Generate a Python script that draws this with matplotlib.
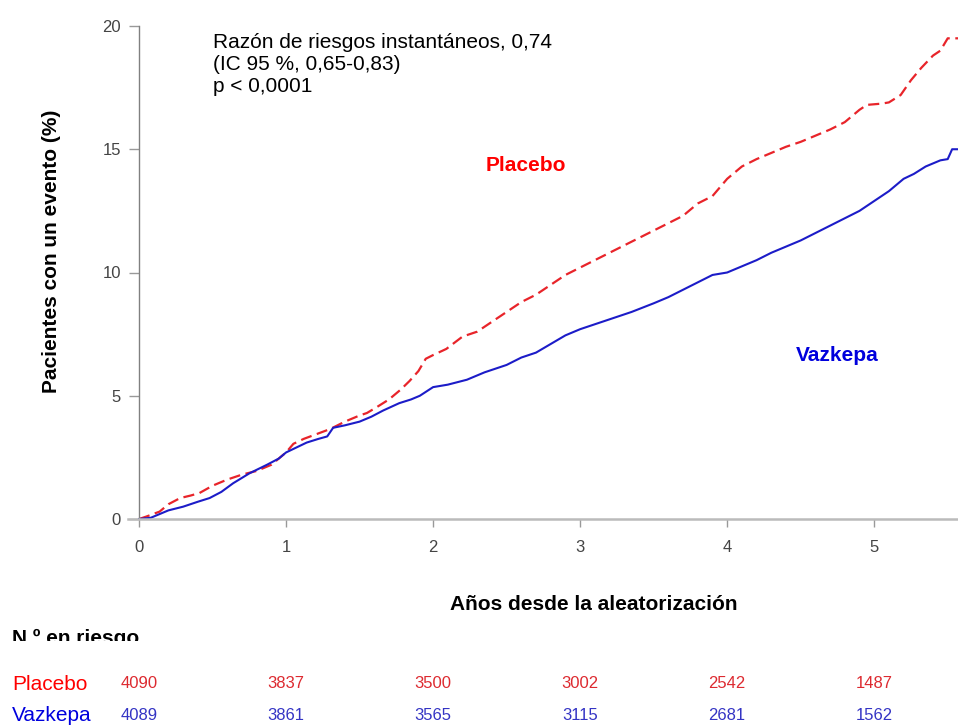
import matplotlib
matplotlib.use('Agg')
import matplotlib.pyplot as plt
import matplotlib.transforms as mtransforms
from matplotlib.patches import Rectangle

plt.rcParams['font.family'] = ['Liberation Sans', 'DejaVu Sans']

# --- data ---
placebo_t = [0, 0.05, 0.14, 0.2, 0.28, 0.35, 0.41, 0.5, 0.6, 0.7, 0.8, 0.9, 1.0, 1.05,
             1.12, 1.21, 1.3, 1.4, 1.5, 1.55, 1.62, 1.7, 1.78, 1.84, 1.9, 1.95, 2.0, 2.09,
             2.2, 2.3, 2.4, 2.5, 2.6, 2.7, 2.8, 2.9, 3.0, 3.1, 3.2, 3.3, 3.4, 3.5, 3.6,
             3.7, 3.8, 3.9, 4.0, 4.1, 4.2, 4.3, 4.4, 4.5, 4.6, 4.7, 4.8, 4.9, 4.95, 5.05,
             5.1, 5.18, 5.25, 5.32, 5.4, 5.45, 5.5, 5.57]
placebo_v = [0, 0.1, 0.3, 0.6, 0.85, 0.95, 1.05, 1.35, 1.6, 1.8, 1.95, 2.2, 2.7, 3.05,
             3.25, 3.45, 3.65, 3.95, 4.2, 4.3, 4.55, 4.85, 5.25, 5.6, 6.0, 6.5, 6.65, 6.9,
             7.4, 7.6, 8.0, 8.4, 8.8, 9.1, 9.5, 9.9, 10.2, 10.5, 10.8, 11.1, 11.4, 11.7, 12.0,
             12.3, 12.8, 13.1, 13.8, 14.3, 14.6, 14.85, 15.1, 15.3, 15.55, 15.8, 16.1, 16.6, 16.8, 16.85,
             16.9, 17.2, 17.8, 18.3, 18.8, 19.0, 19.5, 19.5]

vazkepa_t = [0, 0.08, 0.12, 0.2, 0.3, 0.4, 0.48, 0.56, 0.64, 0.75, 0.87, 0.95, 1.0, 1.07,
             1.14, 1.22, 1.28, 1.32, 1.4, 1.5, 1.58, 1.66, 1.77, 1.85, 1.91, 2.0, 2.1, 2.23,
             2.35, 2.5, 2.6, 2.7, 2.8, 2.9, 3.0, 3.1, 3.2, 3.35, 3.5, 3.6, 3.7, 3.8, 3.9,
             4.0, 4.1, 4.2, 4.3, 4.4, 4.5, 4.6, 4.7, 4.8, 4.9, 5.0, 5.1, 5.2, 5.27, 5.35,
             5.45, 5.5, 5.53, 5.57]
vazkepa_v = [0, 0.05, 0.15, 0.35, 0.5, 0.7, 0.85, 1.1, 1.45, 1.85, 2.2, 2.45, 2.7, 2.9,
             3.1, 3.25, 3.35, 3.7, 3.8, 3.95, 4.15, 4.4, 4.7, 4.85, 5.0, 5.35, 5.45, 5.65,
             5.95, 6.25, 6.55, 6.75, 7.1, 7.45, 7.7, 7.9, 8.1, 8.4, 8.75, 9.0, 9.3, 9.6, 9.9,
             10.0, 10.25, 10.5, 10.8, 11.05, 11.3, 11.6, 11.9, 12.2, 12.5, 12.9, 13.3, 13.8, 14.0, 14.3,
             14.55, 14.6, 15.0, 15.0]

x_ticks = [0, 1, 2, 3, 4, 5]
y_ticks = [0, 5, 10, 15, 20]

risk_x = [0, 1, 2, 3, 4, 5]
risk_placebo = [4090, 3837, 3500, 3002, 2542, 1487]
risk_vazkepa = [4089, 3861, 3565, 3115, 2681, 1562]

red = '#ff0000'
blue = '#0000dd'

# ==========================================
# FIGURE (pixel helpers: 958x727 at 100 dpi)
# ==========================================
W, H = 958, 727
fig = plt.figure(figsize=(9.58, 7.27), dpi=100)
ax = fig.add_axes([128 / W, 1 - 519 / H, (W - 128) / W, (519 - 26) / H])

ax.plot(placebo_t, placebo_v, color='#e8242a', linewidth=1.6, linestyle=(0, (5, 2.5)))
ax.plot(vazkepa_t, vazkepa_v, color='#1c1cc8', linewidth=1.5)

ax.set_xlim(-0.075, 5.57)
ax.set_ylim(0, 20)
ax.spines['top'].set_visible(False)
ax.spines['right'].set_visible(False)
ax.spines['left'].set_position(('data', 0))
ax.spines['left'].set_bounds(0, 20)
ax.spines['left'].set_color('#808080')
ax.spines['left'].set_linewidth(1.0)
ax.spines['bottom'].set_color('#bbbbbb')
ax.spines['bottom'].set_linewidth(1.8)

ax.set_xticks(x_ticks)
ax.set_yticks(y_ticks)
ax.tick_params(axis='both', colors='#999999', labelcolor='#444444', labelsize=12, width=1)
ax.tick_params(axis='x', length=6, pad=9)
ax.tick_params(axis='y', length=7, pad=6)

ax.text(0.5, 19.7, 'Razón de riesgos instantáneos, 0,74\n(IC 95 %, 0,65-0,83)\np < 0,0001',
        fontsize=15, va='top', ha='left', linespacing=1.2)
ax.text(2.63, 14.36, 'Placebo', color=red, fontsize=15, fontweight='bold', ha='center', va='center')
ax.text(4.75, 6.65, 'Vazkepa', color=blue, fontsize=15, fontweight='bold', ha='center', va='center')

fig.text(52 / W, 1 - 251 / H, 'Pacientes con un evento (%)', rotation=90, fontsize=15,
         fontweight='bold', ha='center', va='center')
fig.text(594 / W, 1 - 605 / H, 'Años desde la aleatorización', fontsize=15,
         fontweight='bold', ha='center', va='center')

# --- risk table ---
fig.text(12 / W, 1 - 644 / H, 'N.º en riesgo', fontsize=15, fontweight='bold', ha='left', va='baseline')
# the heading is cut off just above its baseline in the original
fig.patches.append(Rectangle((0, 1 - 660 / H), 220 / W, 19 / H, transform=fig.transFigure,
                             facecolor='white', edgecolor='none', zorder=5))
fig.text(12 / W, 1 - 690 / H, 'Placebo', fontsize=15, color=red, ha='left', va='baseline')
fig.text(12 / W, 1 - 721 / H, 'Vazkepa', fontsize=15, color=blue, ha='left', va='baseline')

trans = mtransforms.blended_transform_factory(ax.transData, fig.transFigure)
for x, n in zip(risk_x, risk_placebo):
    ax.text(x, 1 - 688 / H, str(n), transform=trans, fontsize=12, color='#dd2a30',
            ha='center', va='baseline', clip_on=False)
for x, n in zip(risk_x, risk_vazkepa):
    ax.text(x, 1 - 720 / H, str(n), transform=trans, fontsize=12, color='#3434c4',
            ha='center', va='baseline', clip_on=False)

fig.savefig('out.png', dpi=100)
plt.close(fig)
